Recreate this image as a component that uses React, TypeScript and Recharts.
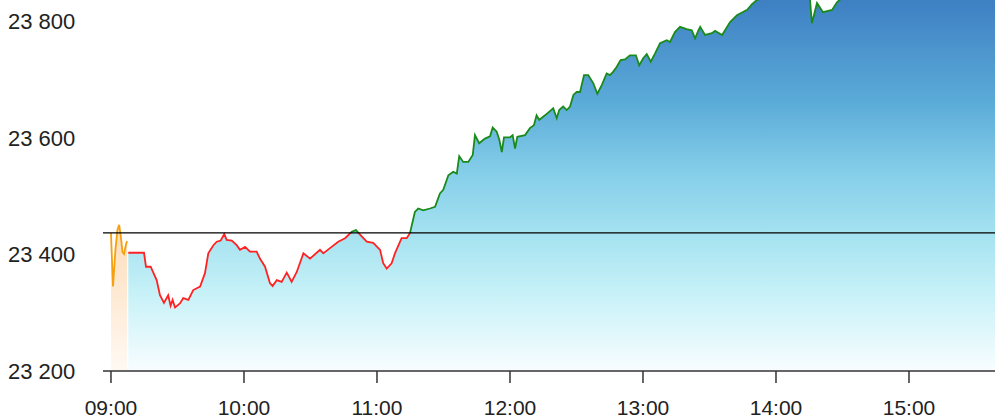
import { ComposedChart, Area, XAxis, YAxis, ReferenceLine } from "recharts";

// minutes after 09:00
const PRE_TIMES = [0, 0.9, 2.0, 2.9, 3.7, 4.4, 5.2, 5.9, 6.8, 7.3];
const PRE_VALUES = [23437, 23345, 23408, 23442, 23451, 23432, 23404, 23401, 23418, 23423];

const TIMES = [
  7.8, 14.9, 15.8, 17.9, 19.1, 20.6, 22.1, 23.9, 25.8, 26.9, 27.8, 28.9, 31.1, 32.6, 34.9, 37.1, 40.2, 42.4,
  43.9, 46.2, 47.7, 49.5, 51.1, 52.2, 54.5, 56.7, 58.2, 60.5, 62.7, 65.7, 67.2, 69.5, 71.7, 72.9, 74.8, 77.0,
  79.3, 81.5, 83.8, 86.8, 89.8, 94.3, 95.8, 98.8, 102.5, 105.6, 108.6, 110.5, 113.1, 115.4, 118.3, 121.4,
  122.8, 124.4, 126.6, 128.1, 131.1, 133.4, 134.9, 137.1, 138.6, 140.9, 143.9, 146.2, 148.4, 149.9, 152.2,
  154.4, 156.0, 157.1, 158.9, 161.2, 163.2, 164.2, 166.1, 168.7, 171.0, 172.2, 174.0, 175.2, 176.3, 177.3,
  180.0, 181.2, 182.3, 183.3, 186.8, 189.0, 190.8, 192.0, 193.2, 195.8, 199.5, 201.1, 202.2, 204.0, 205.6,
  207.1, 208.6, 210.1, 211.6, 213.4, 215.3, 217.6, 219.4, 221.4, 222.4, 223.6, 225.1, 226.6, 228.1, 229.9,
  231.9, 234.1, 236.8, 238.3, 240.1, 241.7, 243.5, 245.4, 247.7, 250.7, 252.2, 254.4, 256.7, 259.7, 262.0,
  263.5, 265.0, 265.8, 268.0, 271.1, 272.5, 275.7, 279.3, 282.4, 287.0, 289.2, 291.4, 295, 300, 305, 310,
  315.3, 316.2, 318.5, 321.2, 325.3, 327.5, 330.2, 335, 340, 345, 350, 355, 360, 365, 370, 375, 380, 385,
  390, 395, 400,
];
const PRICES = [
  23403, 23403, 23379, 23379, 23369, 23356, 23330, 23317, 23330, 23312, 23322, 23309, 23316, 23325, 23322,
  23339, 23345, 23368, 23402, 23416, 23422, 23424, 23435, 23425, 23424, 23416, 23408, 23413, 23405, 23405,
  23393, 23379, 23351, 23346, 23356, 23353, 23369, 23353, 23370, 23402, 23393, 23408, 23402, 23411, 23422,
  23428, 23439, 23442, 23431, 23422, 23420, 23408, 23385, 23376, 23385, 23402, 23428, 23428, 23437, 23473,
  23479, 23476, 23479, 23482, 23505, 23511, 23536, 23542, 23539, 23569, 23559, 23559, 23571, 23605, 23591,
  23599, 23603, 23618, 23611, 23597, 23576, 23601, 23601, 23605, 23582, 23602, 23605, 23617, 23622, 23639,
  23631, 23639, 23651, 23634, 23648, 23654, 23648, 23654, 23674, 23679, 23679, 23708, 23708, 23694, 23676,
  23691, 23700, 23711, 23708, 23714, 23722, 23734, 23735, 23742, 23742, 23725, 23737, 23744, 23731, 23745,
  23763, 23768, 23765, 23782, 23791, 23787, 23785, 23771, 23785, 23791, 23777, 23780, 23784, 23777, 23799,
  23811, 23820, 23830, 23837, 23841, 23848, 23845, 23850, 23840, 23797, 23832, 23816, 23820, 23833, 23842,
  23855, 23862, 23858, 23870, 23875, 23868, 23880, 23885, 23878, 23890, 23895, 23888, 23900, 23905,
];

const PREV_CLOSE = 23437;
const Y_TICKS = [23200, 23400, 23600, 23800];
const X_TICKS = [0, 60, 120, 180, 240, 300, 360];
const Y_MIN = 23200;
const Y_MAX = 23837;
const X_DOMAIN: [number, number] = [-3.6, 398.8];

const data = [
  ...PRE_TIMES.map((t, i) => ({ t, pre: PRE_VALUES[i] })),
  ...TIMES.map((t, i) => ({ t, price: PRICES[i] })),
];

const W = 995;
const H = 418;
const AXIS_H = 47;
const PLOT_BOTTOM = H - AXIS_H;
const FONT = "'Liberation Sans', Arial, sans-serif";

// where the previous close falls inside the plot, 0 = top
const splitAt = (Y_MAX - PREV_CLOSE) / (Y_MAX - Y_MIN);

const fmtPrice = (v: number) => String(v).replace(/\B(?=(\d{3})+(?!\d))/g, " ");
const fmtTime = (m: number) => `${String(9 + Math.round(m / 60)).padStart(2, "0")}:00`;

function PriceTick(props: any) {
  const { y, payload } = props;
  return (
    <text x={8} y={y} dy="0.36em" textAnchor="start" fontSize={22} fill="#222" fontFamily={FONT}>
      {fmtPrice(payload.value)}
    </text>
  );
}

export default function App() {
  return (
    <div style={{ position: "absolute", left: 0, top: 0, width: W, height: H, overflow: "hidden" }}>
      <ComposedChart width={W} height={H} data={data} margin={{ top: 0, right: 0, bottom: 0, left: 0 }}>
        <defs>
          <linearGradient id="areaFill" gradientUnits="userSpaceOnUse" x1={0} y1={0} x2={0} y2={PLOT_BOTTOM}>
            <stop offset="0" stopColor="#3e80c3" />
            <stop offset="0.27" stopColor="#5aaad8" />
            <stop offset="0.46" stopColor="#84cde9" />
            <stop offset="0.63" stopColor="#a4e2f0" />
            <stop offset="0.8" stopColor="#c9f2f8" />
            <stop offset="1" stopColor="#f8fdff" />
          </linearGradient>
          <linearGradient id="preFill" x1="0" y1="0" x2="0" y2="1">
            <stop offset="0" stopColor="#fddcb8" />
            <stop offset="1" stopColor="#fff9f3" />
          </linearGradient>
          <linearGradient id="lineStroke" gradientUnits="userSpaceOnUse" x1={0} y1={0} x2={0} y2={PLOT_BOTTOM}>
            <stop offset={splitAt} stopColor="#1a8a1a" />
            <stop offset={splitAt} stopColor="#ff2222" />
          </linearGradient>
        </defs>
        <XAxis
          dataKey="t"
          type="number"
          domain={X_DOMAIN}
          allowDataOverflow
          ticks={X_TICKS}
          tickFormatter={fmtTime}
          height={AXIS_H}
          stroke="#666"
          strokeWidth={1.8}
          tickSize={12}
          tickMargin={17}
          tickLine={{ stroke: "#333", strokeWidth: 1.5 }}
          tick={{ fill: "#222", fontSize: 21, fontFamily: FONT }}
        />
        <YAxis
          type="number"
          domain={[Y_MIN, Y_MAX]}
          allowDataOverflow
          ticks={Y_TICKS}
          width={103}
          axisLine={false}
          tickLine={false}
          tick={<PriceTick />}
        />
        <Area
          dataKey="price"
          type="linear"
          stroke="url(#lineStroke)"
          strokeWidth={1.8}
          fill="url(#areaFill)"
          fillOpacity={1}
          dot={false}
          activeDot={false}
          isAnimationActive={false}
        />
        <Area
          dataKey="pre"
          type="linear"
          stroke="#f5a10f"
          strokeWidth={1.8}
          fill="url(#preFill)"
          fillOpacity={1}
          dot={false}
          activeDot={false}
          isAnimationActive={false}
        />
        <ReferenceLine y={PREV_CLOSE} stroke="#000" strokeWidth={1.2} />
      </ComposedChart>
    </div>
  );
}
